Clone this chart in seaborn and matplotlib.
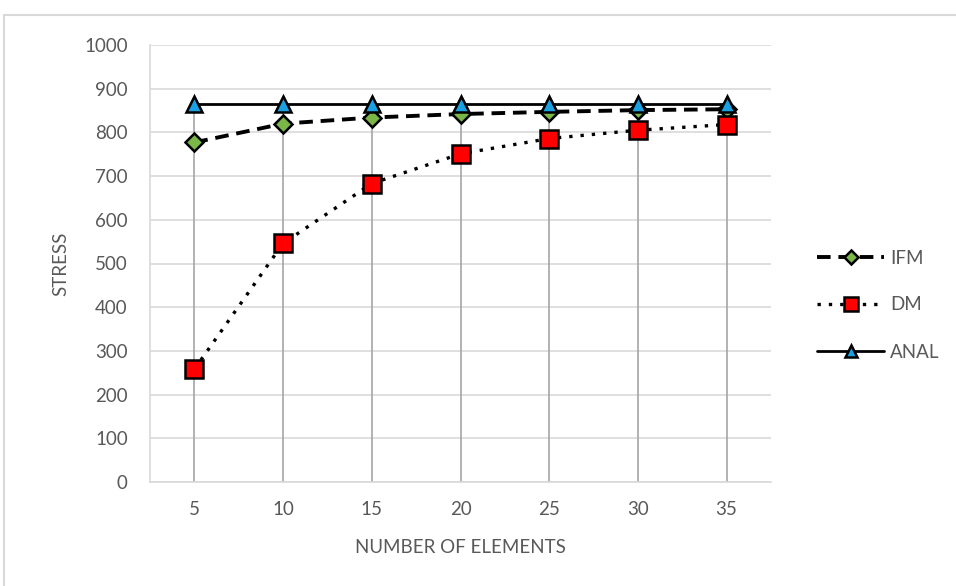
import matplotlib
matplotlib.use("Agg")
import matplotlib.pyplot as plt
import seaborn as sns
import pandas as pd
import numpy as np
from matplotlib.patches import Rectangle

categories = ["5", "10", "15", "20", "25", "30", "35"]
ifm = [777, 820, 834, 842, 847, 851, 853]
dm = [258, 546, 683, 751, 786, 805, 818]
anal = [866, 866, 866, 866, 866, 866, 866]

sns.set_theme(style="white")
plt.rcParams['font.family'] = ['Lato', 'DejaVu Sans']

fig = plt.figure(figsize=(9.56, 5.86), dpi=100)
ax = fig.add_axes([150/956, 1 - 482/586, (771-150)/956, (482-45)/586])

# Figure frame
fig.patches.append(Rectangle((4/956, -0.1), 1.2, 1 - 15/586 + 0.1,
                             transform=fig.transFigure, fill=False,
                             edgecolor="#d9d9d9", linewidth=1.5))

x = np.arange(len(categories))
df = pd.DataFrame({"x": np.tile(x, 3),
                   "value": ifm + dm + anal,
                   "series": ["IFM"] * 7 + ["DM"] * 7 + ["ANAL"] * 7})

# drop lines
tops = df.groupby("x")["value"].max()
ax.vlines(tops.index, 0, tops.values, color="#a6a6a6", linewidth=1.2, zorder=1)

styles = {
    "IFM": dict(linestyle=(0, (3.5, 2)), marker="D", markerfacecolor="#7ab648", markersize=9.5, lw=2.8),
    "DM": dict(linestyle=(0, (1, 2.4)), marker="s", markerfacecolor="#ff0000", markersize=12.5, lw=2.4),
    "ANAL": dict(linestyle="-", marker="^", markerfacecolor="#1ba1e2", markersize=12, lw=2.0),
}
for name in ["IFM", "DM", "ANAL"]:
    st = styles[name]
    sub = df[df["series"] == name]
    sns.lineplot(data=sub, x="x", y="value", ax=ax, color="black",
                 linestyle=st["linestyle"], linewidth=st["lw"], marker=st["marker"],
                 markerfacecolor=st["markerfacecolor"], markeredgecolor="black",
                 markeredgewidth=1.8, markersize=st["markersize"], label=name, zorder=3)

ax.set_xlim(-0.5, len(categories) - 0.5)
ax.set_ylim(0, 1000)
ax.set_yticks(range(0, 1001, 100))
ax.set_xticks(x)
ax.set_xticklabels(categories)
ax.yaxis.grid(True, color="#d9d9d9", linewidth=1.2)
ax.xaxis.grid(False)
for s in ["top", "right"]:
    ax.spines[s].set_visible(False)
for s in ["left", "bottom"]:
    ax.spines[s].set_color("#d9d9d9")
    ax.spines[s].set_linewidth(1.2)
ax.tick_params(axis="y", colors="#595959", labelsize=13.5, length=0, pad=16)
ax.tick_params(axis="x", colors="#595959", labelsize=13.5, length=0, pad=14)
ax.set_xlabel("NUMBER OF ELEMENTS", color="#595959", fontsize=13.5, labelpad=15)
ax.set_ylabel("STRESS", color="#595959", fontsize=13.5, labelpad=11)

leg = ax.legend(loc="center left", bbox_to_anchor=(800/956, 1 - 305/586),
                bbox_transform=fig.transFigure, frameon=False, fontsize=13.5,
                handlelength=3.6, labelspacing=1.6, handletextpad=0.3, markerscale=0.75)
for t in leg.get_texts():
    t.set_color("#595959")

fig.savefig("out.png", dpi=100)
